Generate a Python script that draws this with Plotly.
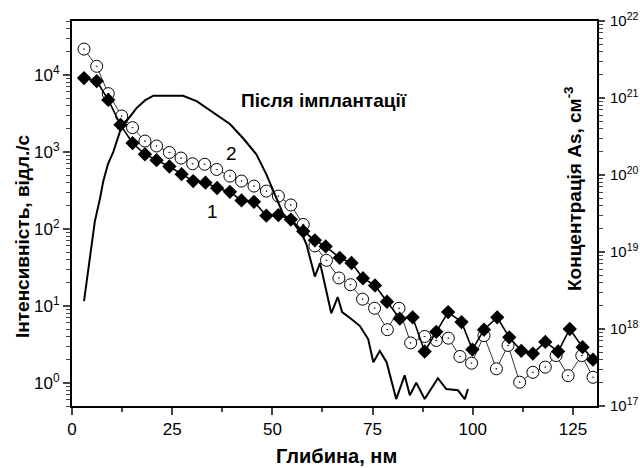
import plotly.graph_objects as go

# Series 1 (filled diamonds)
depth_1 = [3.0, 6.15, 9.05, 12.1, 15.1, 18.2, 21.1, 24.3, 27.35, 30.25, 33.3, 36.2, 39.4, 42.3,
           45.4, 48.5, 51.5, 54.6, 57.7, 60.6, 63.3, 66.8, 69.75, 72.6, 75.6, 78.6, 81.8, 85.0,
           88.0, 90.9, 93.85, 97.2, 99.9, 102.8, 106.1, 109.1, 112.1, 115.0, 118.1, 121.3,
           124.2, 127.4, 130.0]
intens_1 = [9060, 8300, 4720, 2240, 1300, 930, 780, 645, 513, 417, 398, 339, 302, 234,
            224, 148, 151, 132, 93, 71, 59, 42, 36, 22.8, 18.4, 11.3, 6.8, 7.1,
            2.55, 4.6, 8.3, 6.15, 2.7, 4.9, 7.1, 3.9, 2.6, 2.4, 3.4, 2.55,
            5.0, 2.9, 2.0]

# Series 2 (open circles)
depth_2 = [3.0, 6.15, 9.05, 12.4, 15.1, 18.2, 21.1, 24.3, 27.2, 30.1, 33.1, 36.1, 39.4, 42.3,
           45.4, 48.5, 51.5, 54.6, 57.7, 60.6, 63.5, 66.6, 69.5, 72.5, 75.5, 78.7, 81.6, 84.5,
           88.0, 90.9, 93.9, 96.8, 99.7, 102.8, 105.9, 108.8, 111.7, 115.0, 118.1, 120.8,
           123.8, 127.2, 130.0]
intens_2 = [21600, 12900, 5700, 2920, 2060, 1380, 1190, 980, 830, 700, 690, 590, 484, 417,
            359, 309, 266, 204, 114, 60, 39, 23, 18.8, 12.2, 9.3, 4.9, 9.3, 3.3,
            4.0, 3.55, 3.8, 2.2, 1.8, 4.1, 1.52, 3.06, 1.02, 1.37, 1.6, 2.26,
            1.24, 2.26, 1.18]

# As concentration after implantation (right axis)
depth_imp = [3.0, 4.5, 5.7, 7.0, 7.8, 9.0, 10.3, 12.0, 13.6, 16.1, 18.2, 20.3, 27.7, 31.1,
             35.2, 39.4, 42.7, 46.0, 48.5, 51.0, 52.7, 55.2, 57.5, 58.5, 60.6, 61.9, 63.5,
             64.7, 66.3, 67.4, 69.3, 71.8, 73.9, 75.2, 76.8, 78.5, 80.9, 83.0, 84.3, 85.9,
             88.0, 91.3, 93.4, 96.3, 98.0, 98.8]
conc_imp = [2.3e18, 9.3e18, 2.5e19, 5.0e19, 8.3e19, 1.4e20, 2.0e20, 3.7e20, 5.0e20, 7.4e20,
            9.3e20, 1.07e21, 1.07e21, 9.1e20, 6.5e20, 4.6e20, 3.0e20, 1.86e20, 1.02e20,
            5.0e19, 3.1e19, 2.4e19, 1.66e19, 1.26e19, 4.8e18, 7.2e18, 3.1e18, 1.6e18,
            2.6e18, 1.66e18, 1.4e18, 1.1e18, 7.4e17, 3.7e17, 5.2e17, 3.7e17, 1.23e17,
            2.5e17, 1.38e17, 2.0e17, 1.23e17, 2.3e17, 1.66e17, 1.6e17, 1.23e17, 1.66e17]

x_ticks = [0, 25, 50, 75, 100, 125]
left_exps = [0, 1, 2, 3, 4]
right_exps = [17, 18, 19, 20, 21, 22]

FONT = "Liberation Sans, Arial, sans-serif"

fig = go.Figure()
fig.add_trace(go.Scatter(x=depth_imp, y=conc_imp, yaxis="y2", mode="lines",
                         line=dict(color="black", width=2), showlegend=False))
fig.add_trace(go.Scatter(x=depth_2, y=intens_2, mode="lines+markers",
                         line=dict(color="black", width=0.8),
                         marker=dict(symbol="circle-dot", size=12, color="white",
                                     line=dict(color="black", width=1)),
                         showlegend=False))
fig.add_trace(go.Scatter(x=depth_1, y=intens_1, mode="lines+markers",
                         line=dict(color="black", width=1.6),
                         marker=dict(symbol="diamond", size=11, color="black",
                                     line=dict(color="black", width=0)),
                         showlegend=False))

L, R, T, B = 72, 43, 21, 62
W, H = 640, 468
pw, ph = W - L - R, H - T - B

def px(xp):
    return (xp - L) / pw

def py(yp):
    return (H - B - yp) / ph

fig.update_layout(
    width=W, height=H,
    margin=dict(l=L, r=R, t=T, b=B, autoexpand=False),
    paper_bgcolor="white", plot_bgcolor="white",
    font=dict(family=FONT, color="black", size=15),
    xaxis=dict(range=[0, 131], tickvals=x_ticks, ticks="outside", ticklen=7, tickwidth=1.5,
               showline=True, linecolor="black", linewidth=2, mirror=True, automargin=False,
               showgrid=False, zeroline=False, tickfont=dict(size=17),
               minor=dict(ticks="outside", ticklen=4, tickwidth=1.5, dtick=12.5, tick0=0)),
    yaxis=dict(type="log", range=[-0.301, 4.699], automargin=False,
               tickvals=[10.0 ** e for e in left_exps],
               ticktext=["10<sup>%d</sup>" % e for e in left_exps],
               ticks="outside", ticklen=7, tickwidth=1.5,
               showline=True, linecolor="black", linewidth=2,
               showgrid=False, zeroline=False, tickfont=dict(size=17),
               minor=dict(ticks="outside", ticklen=4, tickwidth=1, dtick="D1")),
    yaxis2=dict(type="log", range=[17, 22], overlaying="y", side="right", automargin=False,
                tickvals=[10.0 ** e for e in right_exps],
                ticktext=["10<sup>%d</sup>" % e for e in right_exps],
                ticks="outside", ticklen=6, tickwidth=1.5, ticklabelstandoff=2,
                showline=True, linecolor="black", linewidth=2,
                showgrid=False, zeroline=False, tickfont=dict(size=15),
                minor=dict(ticks="outside", ticklen=4, tickwidth=1, dtick="D1")),
)

ann = [
    dict(text="<b>Глибина, нм</b>", x=px(336), y=py(456), font=dict(size=20)),
    dict(text="<b>Інтенсивність, відл./с</b>", x=px(22), y=py(236), textangle=-90,
         font=dict(size=19)),
    dict(text="<b>Концентрація As, см<sup>-3</sup></b>", x=px(573), y=py(189), textangle=-90,
         font=dict(size=19)),
    dict(text="<b>Після імплантації</b>", x=px(324), y=py(101), font=dict(size=19)),
    dict(text="1", x=px(212), y=py(211), font=dict(size=19)),
    dict(text="2", x=px(231), y=py(153), font=dict(size=19)),
]
for a in ann:
    fig.add_annotation(xref="paper", yref="paper", showarrow=False,
                       xanchor="center", yanchor="middle", **a)

fig.write_html("out.html")
